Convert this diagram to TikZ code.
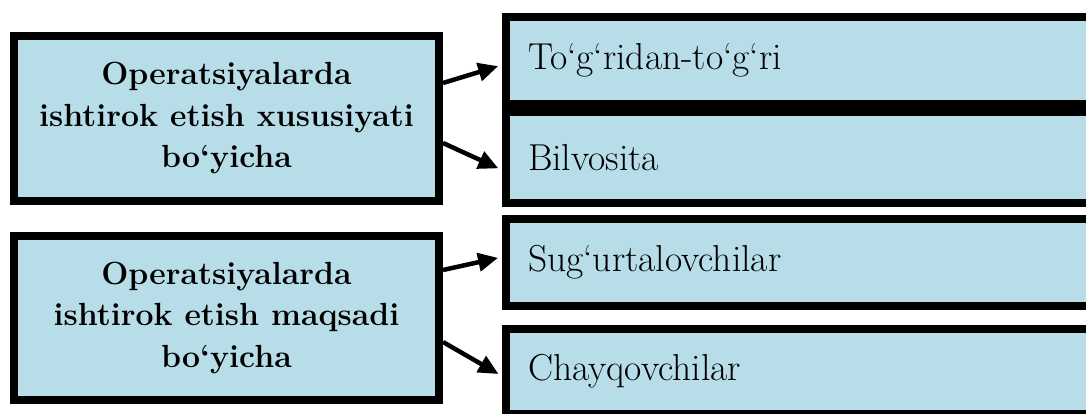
\documentclass[tikz,border=0pt]{standalone}
\usepackage{fontspec}
\usetikzlibrary{arrows.meta}
\definecolor{boxfill}{HTML}{B6DDE8}
\begin{document}
\begin{tikzpicture}[x=1pt,y=-1pt,
  catbox/.style={draw=black, line width=8pt, fill=boxfill, rectangle,
    minimum width=425pt, align=center, inner sep=0pt,
    font=\fontsize{32}{41.5}\selectfont\bfseries},
  itembox/.style={draw=black, line width=8pt, fill=boxfill, rectangle,
    anchor=west, minimum width=600pt, text width=556pt, align=left,
    inner xsep=22pt, inner ysep=0pt,
    font=\fontsize{37.5}{41.5}\selectfont},
  link/.style={line width=4.5pt, -{Triangle[length=20pt,width=18pt]}, shorten >=4pt}]
\useasboundingbox (0,0) rectangle (1086,414);
\clip (0,0) rectangle (1086,414);

% category boxes on the left
\node[catbox, minimum height=165pt] (l1) at (226.5,118.5)
  {Operatsiyalarda\\ishtirok etish xususiyati\\bo‘yicha};
\node[catbox, minimum height=164pt] (l2) at (226.5,318)
  {Operatsiyalarda\\ishtirok etish maqsadi\\bo‘yicha};

% item boxes on the right
\node[itembox, minimum height=87pt] (r1) at (502,60.5) {To‘g‘ridan-to‘g‘ri};
\node[itembox, minimum height=91pt] (r2) at (502,157.5) {Bilvosita};
\node[itembox, minimum height=87pt] (r3) at (502,262.5) {Sug‘urtalovchilar};
\node[itembox, minimum height=85pt] (r4) at (502,371.5) {Chayqovchilar};

% connectors
\draw[link] (l1.east |- 0,83) -- (r1.west |- 0,65);
\draw[link] (l1.east |- 0,143) -- (r2.west |- 0,170);
\draw[link] (l2.east |- 0,270) -- (r3.west |- 0,257);
\draw[link] (l2.east |- 0,342) -- (r4.west |- 0,376);
\end{tikzpicture}
\end{document}
